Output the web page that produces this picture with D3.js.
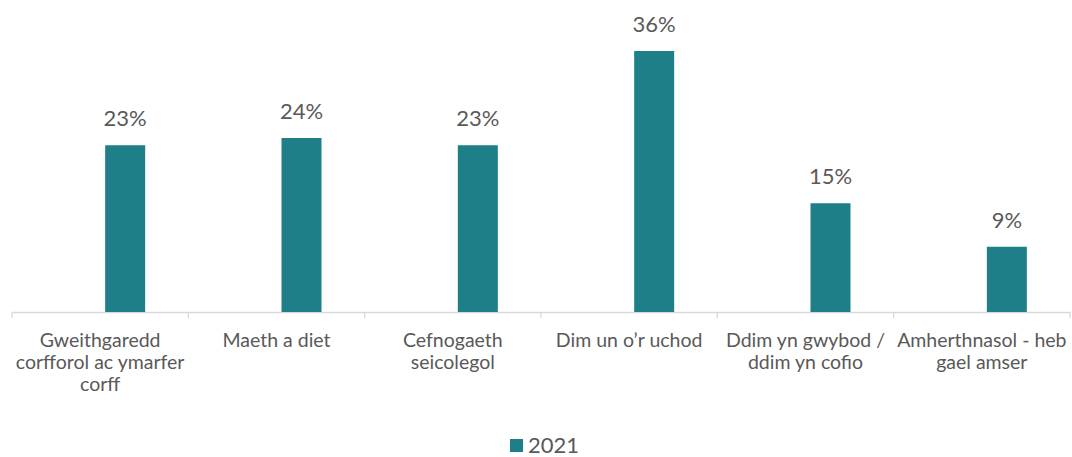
<!DOCTYPE html>
<html>
<head>
<meta charset="utf-8">
<script src="https://d3js.org/d3.v7.min.js"></script>
<style>
body { margin: 0; background: #fff; }
text { font-family: Lato, "Open Sans", sans-serif; fill: #595959; }
</style>
</head>
<body>
<svg id="chart" width="1072" height="457"></svg>
<script>
// data
var categories = [
  ["Gweithgaredd", "corfforol ac ymarfer", "corff"],
  ["Maeth a diet"],
  ["Cefnogaeth", "seicolegol"],
  ["Dim un o\u2019r uchod"],
  ["Ddim yn gwybod /", "ddim yn cofio"],
  ["Amherthnasol - heb", "gael amser"]
];
var values2021 = [23, 24, 23, 36, 15, 9];
var seriesName = "2021";

var svg = d3.select('#chart');
var left = 12, right = 1070, baseY = 312;
var barColor = '#1e7f89';

var x = d3.scaleBand().domain(d3.range(categories.length)).range([left, right]);
var y = d3.scaleLinear().domain([0, 36]).range([baseY, baseY - 261]);
var bw = x.bandwidth();
var barW = 40;

// axis line + ticks at category boundaries
var axis = d3.axisBottom(x).tickSize(0).tickFormat('');
var g = svg.append('g').attr('transform', 'translate(0,' + baseY + ')').call(axis);
g.select('.domain').attr('stroke', '#d9d9d9').attr('stroke-width', 1.3);
var bounds = d3.range(categories.length + 1).map(function(i) { return left + i * bw; });
g.selectAll('.bnd').data(bounds).enter().append('line')
  .attr('x1', function(d) { return d; }).attr('x2', function(d) { return d; })
  .attr('y1', 0).attr('y2', 6)
  .attr('stroke', '#d9d9d9').attr('stroke-width', 1.3);

// bars
svg.selectAll('.bar').data(values2021).enter().append('rect')
  .attr('class', 'bar')
  .attr('x', function(d, i) { return x(i) + bw / 2 + 5; })
  .attr('y', function(d) { return y(d); })
  .attr('width', barW)
  .attr('height', function(d) { return baseY - y(d); })
  .attr('fill', barColor);

// value labels
svg.selectAll('.lbl').data(values2021).enter().append('text')
  .attr('x', function(d, i) { return x(i) + bw / 2 + 5 + barW / 2; })
  .attr('y', function(d) { return y(d) - 19; })
  .attr('text-anchor', 'middle')
  .style('font-size', '22px')
  .text(function(d) { return d + '%'; });

// category labels
categories.forEach(function(lines, i) {
  var t = svg.append('text')
    .attr('x', x(i) + bw / 2)
    .attr('y', baseY + 35)
    .attr('text-anchor', 'middle')
    .style('font-size', '19.5px');
  lines.forEach(function(l, j) {
    t.append('tspan').attr('x', x(i) + bw / 2).attr('dy', j === 0 ? 0 : 22).text(l);
  });
});

// legend
svg.append('rect').attr('x', 510).attr('y', 439).attr('width', 13).attr('height', 13).attr('fill', barColor);
svg.append('text').attr('x', 528).attr('y', 453).style('font-size', '22px').text(seriesName);
</script>
</body>
</html>
